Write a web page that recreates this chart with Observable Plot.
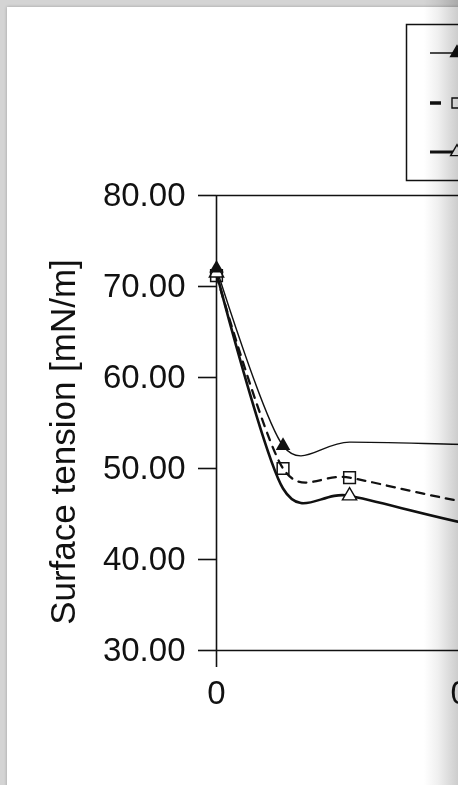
<!DOCTYPE html>
<html>
<head>
<meta charset="utf-8">
<script src="https://cdn.jsdelivr.net/npm/d3@7"></script>
<script src="https://cdn.jsdelivr.net/npm/@observablehq/plot@0.6"></script>
<style>
html, body { margin: 0; padding: 0; width: 458px; height: 785px; overflow: hidden; background: #d4d4d4; }
#page { position: absolute; left: 7px; top: 7px; width: 700px; height: 820px; background: #fff; box-shadow: 0 0 3px rgba(0,0,0,0.25); }
#chart { position: absolute; left: 0; top: 0; width: 695px; }
#chart svg { max-width: none !important; }
#legend { position: absolute; left: 0; top: 0; }
#shade { position: absolute; right: 0; top: 0; width: 34px; height: 785px; pointer-events: none; mix-blend-mode: multiply;
  background: linear-gradient(to right, rgb(255,255,255) 0%, rgb(240,240,240) 40%, rgb(205,205,205) 100%); }
</style>
</head>
<body>
<div id="page"></div>
<div id="chart"></div>
<div id="legend"></div>
<div id="shade"></div>
<script>
// ---- data ----
const concentrations = [0, 0.005, 0.01, 0.02, 0.03];
const seriesFilledTriangle = [72.0, 52.5, 52.9, 52.6, 52.5];
const seriesSquare = [71.2, 50.0, 49.0, 46.0, 45.0];
const seriesOpenTriangle = [71.5, 47.8, 47.0, 43.6, 42.0];
const markedFilledTriangle = [0, 1, 3, 4];
const markedSquare = [0, 1, 2, 3, 4];
const markedOpenTriangle = [0, 2, 3, 4];
const yTicks = [30, 40, 50, 60, 70, 80];
const xTicks = [0, 0.02];
const xTickLabels = ["0", "0.02"];
const yLabel = "Surface tension [mN/m]";

const rows = vals => concentrations.map((c, i) => ({c, v: vals[i], i}));
const A = rows(seriesFilledTriangle);
const B = rows(seriesSquare);
const C = rows(seriesOpenTriangle);

const font = "'Liberation Sans', Arial, sans-serif";
const ink = "#111";
const smooth = {curve: "cardinal", tension: 0.15};

const chart = Plot.plot({
  width: 695,
  height: 785,
  marginLeft: 216,
  marginRight: 0,
  marginTop: 195,
  marginBottom: 135,
  style: {fontFamily: font, background: "transparent", color: ink, overflow: "visible", maxWidth: "none"},
  x: {domain: [0, 0.036]},
  y: {domain: [30, 80]},
  marks: [
    Plot.ruleY([80], {x1: 0, x2: 0.036, stroke: ink, strokeWidth: 1.6}),
    Plot.ruleY([30], {x1: 0, x2: 0.036, stroke: ink, strokeWidth: 1.6}),
    Plot.ruleX([0], {y1: 30, y2: 80, stroke: ink, strokeWidth: 1.6}),
    Plot.axisY({ticks: yTicks, tickSize: 18, tickPadding: 13, tickFormat: d => d.toFixed(2),
      fontSize: 33, label: null, stroke: ink, strokeWidth: 1.6, fill: ink}),
    Plot.axisX({ticks: xTicks, tickSize: 17, tickPadding: 13,
      tickFormat: d => xTickLabels[xTicks.indexOf(d)],
      fontSize: 33, label: null, stroke: ink, strokeWidth: 1.6, fill: ink}),
    Plot.text([yLabel], {frameAnchor: "left", rotate: -90, dx: -153, dy: 19, fontSize: 35,
      textAnchor: "middle", lineAnchor: "middle", fill: ink}),
    Plot.line(A, {x: "c", y: "v", ...smooth, stroke: ink, strokeWidth: 1.4}),
    Plot.line(B, {x: "c", y: "v", ...smooth, stroke: ink, strokeWidth: 2.3, strokeDasharray: "8,7"}),
    Plot.line(C, {x: "c", y: "v", ...smooth, stroke: ink, strokeWidth: 2.6}),
    Plot.dot(C.filter(d => markedOpenTriangle.includes(d.i)), {x: "c", y: "v", symbol: "triangle", r: 5.3, fill: "white", stroke: ink, strokeWidth: 1.4}),
    Plot.dot(B.filter(d => markedSquare.includes(d.i)), {x: "c", y: "v", symbol: "square", r: 6.6, fill: "none", stroke: ink, strokeWidth: 1.5}),
    Plot.dot(A.filter(d => markedFilledTriangle.includes(d.i)), {x: "c", y: "v", symbol: "triangle", r: 5.4, fill: ink, stroke: "none"})
  ]
});
document.getElementById("chart").append(chart);

// ---- legend box (names are cut off by the page edge) ----
const leg = d3.select("#legend").append("svg").attr("width", 458).attr("height", 200);
leg.append("rect").attr("x", 406.5).attr("y", 24.5).attr("width", 300).attr("height", 156)
  .attr("fill", "white").attr("stroke", ink).attr("stroke-width", 1.5);
const legendRows = [
  {y: 53, w: 1.5, x2: 455, sym: d3.symbolTriangle, fill: ink},
  {y: 103, w: 3.5, x2: 441, sym: d3.symbolSquare, fill: "white"},
  {y: 152, w: 3, x2: 455, sym: d3.symbolTriangle, fill: "white"}
];
legendRows.forEach(r => {
  leg.append("line").attr("x1", 430).attr("x2", r.x2).attr("y1", r.y).attr("y2", r.y)
    .attr("stroke", ink).attr("stroke-width", r.w);
  leg.append("path").attr("d", d3.symbol(r.sym, r.sym === d3.symbolSquare ? 100 : 70)())
    .attr("transform", `translate(457,${r.y})`).attr("fill", r.fill).attr("stroke", ink).attr("stroke-width", 1.4);
});
</script>
</body>
</html>
